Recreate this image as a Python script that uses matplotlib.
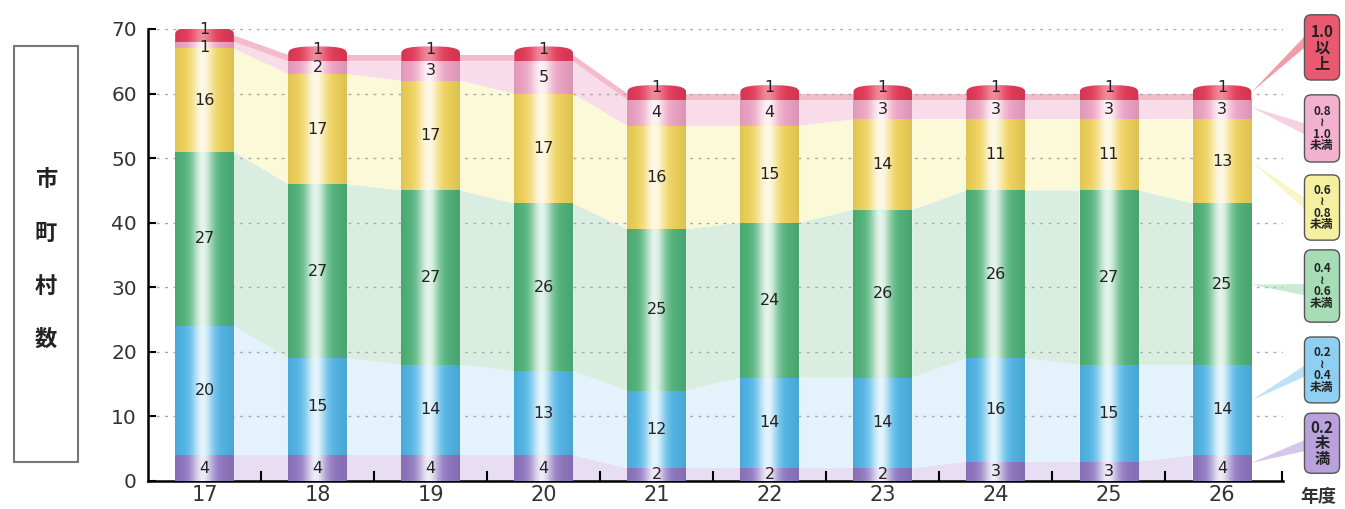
import numpy as np
import matplotlib
matplotlib.use('Agg')
import matplotlib.pyplot as plt
from matplotlib.patches import Polygon, Rectangle, FancyBboxPatch

plt.rcParams['font.family'] = ['Noto Sans CJK JP', 'DejaVu Sans']

# fiscal years and number of municipalities per index class (bottom -> top)
years = ['17', '18', '19', '20', '21', '22', '23', '24', '25', '26']
under_02 = [4, 4, 4, 4, 2, 2, 2, 3, 3, 4]
r02_04 = [20, 15, 14, 13, 12, 14, 14, 16, 15, 14]
r04_06 = [27, 27, 27, 26, 25, 24, 26, 26, 27, 25]
r06_08 = [16, 17, 17, 17, 16, 15, 14, 11, 11, 13]
r08_10 = [1, 2, 3, 5, 4, 4, 3, 3, 3, 3]
over_10 = [1, 1, 1, 1, 1, 1, 1, 1, 1, 1]
class_labels = ['0.2\n未\n満', '0.2\n≀\n0.4\n未満', '0.4\n≀\n0.6\n未満',
                '0.6\n≀\n0.8\n未満', '0.8\n≀\n1.0\n未満', '1.0\n以\n上']

series = np.array([under_02, r02_04, r04_06, r06_08, r08_10, over_10], dtype=float)
bar_cols = ['#9279c4', '#52b8ea', '#52b67c', '#f4d65c', '#f2a6c8', '#e63c5a']
band_cols = ['#e7def3', '#e4f2fc', '#d9eee0', '#fcf9d8', '#f8dce9', '#f4bccb']
box_cols = ['#b9a2dc', '#8fd0f2', '#a6dcb6', '#f4f0a0', '#f2b2cf', '#e95a70']
num_font = ['DejaVu Sans']

W, H = 1345, 509
fig = plt.figure(figsize=(W / 100, H / 100), dpi=100)
ax = fig.add_axes([148 / W, 28 / H, (1283 - 148) / W, 452 / H])

x = np.arange(len(years))
bw = 0.52
cum = np.vstack([np.zeros(len(years)), np.cumsum(series, axis=0)])


def shade(hexcol, amp=0.85, n=80):
    rgb = np.array(matplotlib.colors.to_rgb(hexcol))
    t = np.linspace(0, 1, n)
    hl = amp * np.exp(-((t - 0.47) / 0.18) ** 2)
    dk = 0.10 * (np.abs(t - 0.47) / 0.53) ** 2
    col = rgb[None, :] * (1 - hl[:, None]) + hl[:, None]
    col = col * (1 - dk[:, None])
    return np.clip(col, 0, 1)[None, :, :]


# translucent bands linking the classes between neighbouring bars
for i in range(len(series)):
    for j in range(len(years) - 1):
        xa, xb = x[j] + bw / 2, x[j + 1] - bw / 2
        pts = [(xa, cum[i][j]), (xb, cum[i][j + 1]),
               (xb, cum[i + 1][j + 1]), (xa, cum[i + 1][j])]
        ax.add_patch(Polygon(pts, closed=True, fc=band_cols[i], ec='none', zorder=1))

for yv in range(10, 71, 10):
    ax.plot([-0.5, 9.54], [yv, yv], ls=(0, (2, 4)), color='#aaaaaa', lw=1.0, zorder=1.5)

# cylinder-like stacked bars, the top class gets a rounded cap
cap_h = 1.3
for j in range(len(years)):
    for i in range(len(series)):
        lo, hi = cum[i][j], cum[i + 1][j]
        last = i == len(series) - 1
        top = hi + cap_h if last else hi
        img = ax.imshow(shade(bar_cols[i], 0.4 if last else 0.85),
                        extent=(x[j] - bw / 2, x[j] + bw / 2, lo, top),
                        aspect='auto', zorder=3, interpolation='bilinear')
        if last:
            t = np.linspace(0, np.pi, 60)
            arc = np.column_stack([x[j] + bw / 2 * np.sign(np.cos(t)) * np.abs(np.cos(t)) ** 0.7,
                                   hi + cap_h * np.sin(t) ** 0.6])
            verts = np.vstack([[x[j] + bw / 2, lo], arc, [x[j] - bw / 2, lo]])
            img.set_clip_path(Polygon(verts, closed=True, transform=ax.transData))
        v = series[i][j]
        ty = (lo + hi) / 2
        if last:
            ty = hi + 0.9
        elif i == len(series) - 2 and v == 1:
            ty = lo + 0.2
        ax.text(x[j], ty, f'{int(v)}', ha='center', va='center', fontsize=11.5,
                family=num_font, color='#222222', zorder=5)

ax.set_xlim(-0.5, 9.54)
ax.set_ylim(0, 70)

# axes styling
for s in ['top', 'right']:
    ax.spines[s].set_visible(False)
ax.spines['left'].set_linewidth(1.8)
ax.spines['bottom'].set_linewidth(1.8)
ax.set_yticks(range(0, 71, 10))
ax.set_yticklabels([str(v) for v in range(0, 71, 10)], family=num_font)
ax.tick_params(axis='y', direction='in', length=6, width=1.5, labelsize=14.5,
               labelcolor='#333333', pad=8)
ax.set_xticks(x)
ax.set_xticklabels(years, fontsize=15, color='#333333', family=num_font)
ax.tick_params(axis='x', length=0, pad=3)
for xm in list(x[:-1] + 0.5) + [9.53]:
    ax.plot([xm, xm], [0, 1.4], color='black', lw=1.5, zorder=6, clip_on=False)

# class labels on the right, with leader wedges pointing to the last bar
box_y = [(1.2, 10.5), (12.1, 22.3), (24.6, 35.8), (37.3, 47.4), (49.4, 59.8), (62.1, 72.2)]
apex = [2.8, 12.5, 30.4, 49.5, 57.9, 60.2]
base = [5.6, 17.2, 29.6, 42.7, 54.4, 68.3]
bx0, bx1 = 9.73, 10.04
asp = (1 / 6.457) / (1 / 113.1)
for i in range(len(series)):
    y0, y1 = box_y[i]
    wedge = Polygon([(x[-1] + bw / 2, apex[i]), (bx0 + 0.02, base[i] - 0.9),
                     (bx0 + 0.02, base[i] + 0.9)], closed=True,
                    fc=box_cols[i], ec='none', alpha=0.6, zorder=2, clip_on=False)
    ax.add_patch(wedge)
    ax.add_patch(FancyBboxPatch((bx0, y0), bx1 - bx0, y1 - y0,
                                boxstyle='round,pad=0,rounding_size=0.06',
                                mutation_aspect=asp, fc=box_cols[i], ec='#555555',
                                lw=1.0, zorder=4, clip_on=False))
    big = i in (0, 5)
    ax.text((bx0 + bx1) / 2, (y0 + y1) / 2, class_labels[i], ha='center', va='center',
            fontsize=11 if big else 8.5, fontweight='bold', color='#222222',
            linespacing=0.95 if big else 0.85, zorder=5, clip_on=False)

# y-axis title in a framed box
fig.patches.append(Rectangle((14 / W, (H - 462) / H), 64 / W, 416 / H, fill=False,
                             ec='#777777', lw=1.5, transform=fig.transFigure))
for k, ch in enumerate('市町村数'):
    fig.text(46 / W, (H - (180 + 53 * k)) / H, ch, ha='center', va='center',
             fontsize=16, fontweight='bold', color='#222222')

fig.text(1318 / W, (H - 497) / H, '年度', ha='center', va='center', fontsize=13,
         fontweight='bold', color='#333333')

fig.savefig('out.png', dpi=100)
